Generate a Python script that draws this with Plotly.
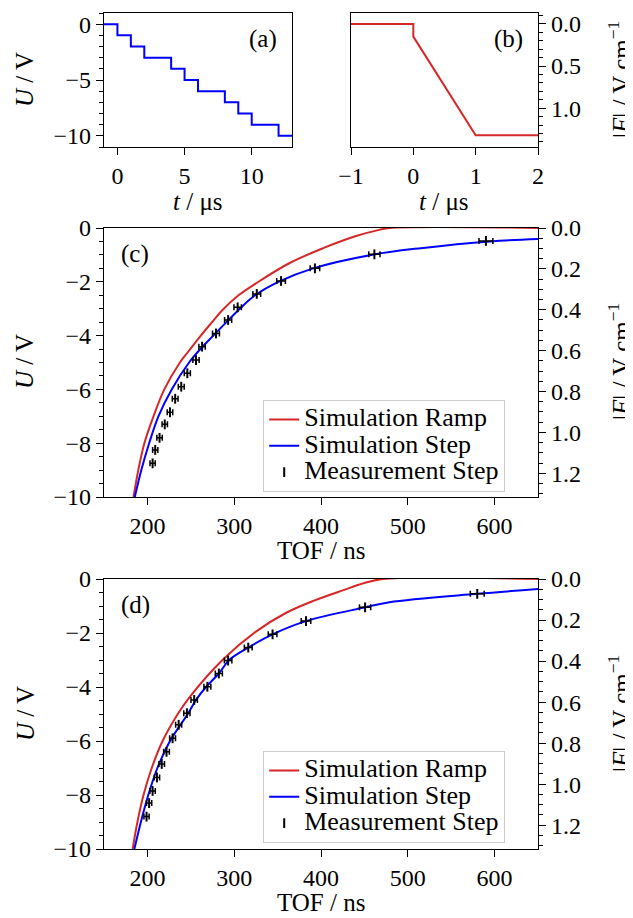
import plotly.graph_objects as go

# ---------------- data ----------------
# Panel (a): stepped voltage sequence
a_t = [-1, 0, 1, 2, 4, 5, 6, 8, 9, 10, 12, 13]
a_U = [0, -1, -2, -3, -4, -5, -6, -7, -8, -9, -10, -10]

# Panel (b): field ramp
b_t = [-1, 0, 0, 1, 2]
b_F = [0.0, 0.0, 0.15, 1.32, 1.32]

# Panel (c)
c_ramp_tof = [184, 189.5, 196.5, 207, 219.5, 237.5, 247, 261.5, 274.5, 286.5, 305, 325, 363.4, 401.8, 440.4, 467, 479, 650]
c_ramp_U = [-10, -9, -8, -7, -6, -5, -4.6, -4.0, -3.5, -3.05, -2.5, -2.06, -1.31, -0.76, -0.30, -0.07, 0.0, 0.0]
c_step_tof = [185.5, 193, 202, 212.7, 228, 248, 261, 276, 291, 306.5, 324, 351, 391, 458, 515, 595, 650]
c_step_U = [-10, -9, -8, -7, -6, -5, -4.5, -4.0, -3.5, -3.0, -2.5, -2.0, -1.5, -1.0, -0.75, -0.5, -0.41]
c_meas_tof = [590, 461.5, 393, 354, 326, 304, 293, 279, 263, 256, 246, 239, 232, 226, 220, 214, 209, 206]
c_meas_U = [-0.48, -0.98, -1.5, -1.97, -2.45, -2.95, -3.42, -3.92, -4.41, -4.91, -5.4, -5.9, -6.35, -6.85, -7.3, -7.8, -8.25, -8.75]
c_meas_err = [8, 6.5, 5.5, 5, 4.5, 4.3, 4.1, 4, 3.7, 3.6, 3.5, 3.4, 3.3, 3.2, 3.1, 3.1, 3.0, 3.0]

# Panel (d)
d_ramp_tof = [183, 188.5, 195.5, 205, 217.5, 235, 248, 286.5, 325, 360, 392, 425, 450, 471, 650]
d_ramp_U = [-10, -9, -8, -7, -6, -5, -4.4, -3.0, -1.95, -1.25, -0.8, -0.42, -0.15, 0.0, 0.0]
d_step_tof = [185, 192.5, 201, 211.5, 226, 246.5, 256, 267.5, 282.5, 294.2, 316.2, 344.2, 382.7, 450.8, 478.8, 580, 651]
d_step_U = [-10, -9, -8, -7, -6, -5, -4.48, -4.0, -3.49, -3.0, -2.54, -2.05, -1.56, -1.05, -0.86, -0.55, -0.37]
d_meas_tof = [580, 450.8, 382.7, 344.2, 316.2, 293, 282.3, 269.1, 253.9, 245.5, 236, 229, 222, 216.5, 211, 206, 202, 199]
d_meas_U = [-0.55, -1.05, -1.56, -2.05, -2.54, -3.02, -3.5, -3.99, -4.48, -4.97, -5.4, -5.9, -6.4, -6.85, -7.35, -7.85, -8.3, -8.8]
d_meas_err = [8, 6.5, 5.5, 5, 4.5, 4.3, 4.1, 4, 3.7, 3.6, 3.5, 3.4, 3.3, 3.2, 3.1, 3.1, 3.0, 3.0]

legend_names = ["Simulation Ramp", "Simulation Step", "Measurement Step"]

# --------------- styling ---------------
OFF = 8                      # page body margin of the browser
W, H = 633 - OFF, 918 - OFF
FONT = "Liberation Serif"
FS = 24
AFS = 25
RED = "#d62728"
BLUE = "#0000ff"
SMOOTH = 1.0


def px(x):
    return (x - OFF) / W


def py(y):
    return 1 - (y - OFF) / H


def lname(s):
    return '<span style="font-size:26px">' + s + "</span>"


axis_common = dict(
    showline=True, linecolor="black", linewidth=1.3, mirror=True,
    ticks="outside", ticklen=7, tickwidth=1.3, tickcolor="black",
    showgrid=False, zeroline=False, automargin=False,
    tickfont=dict(family=FONT, size=FS, color="black"),
)
minor_common = dict(ticks="outside", ticklen=4, tickcolor="black", tickwidth=1, tick0=0, showgrid=False)

fig = go.Figure()

# (a)
fig.add_trace(go.Scatter(x=a_t, y=a_U, mode="lines", line=dict(color=BLUE, width=2, shape="hv"),
                         xaxis="x", yaxis="y", showlegend=False))
# (b)
fig.add_trace(go.Scatter(x=b_t, y=b_F, mode="lines", line=dict(color=RED, width=2),
                         xaxis="x2", yaxis="y2", showlegend=False))

meas_marker = dict(symbol="line-ns-open", size=7, color="black", line=dict(color="black", width=2))

# (c)
fig.add_trace(go.Scatter(x=c_ramp_tof, y=c_ramp_U, mode="lines", name=lname(legend_names[0]),
                         line=dict(color=RED, width=2, shape="spline", smoothing=SMOOTH),
                         xaxis="x3", yaxis="y3", legend="legend"))
fig.add_trace(go.Scatter(x=c_step_tof, y=c_step_U, mode="lines", name=lname(legend_names[1]),
                         line=dict(color=BLUE, width=2, shape="spline", smoothing=SMOOTH),
                         xaxis="x3", yaxis="y3", legend="legend"))
fig.add_trace(go.Scatter(x=c_meas_tof, y=c_meas_U, mode="markers", name=lname(legend_names[2]),
                         marker=meas_marker,
                         error_x=dict(type="data", array=c_meas_err, visible=True,
                                      color="black", thickness=1.5, width=3),
                         xaxis="x3", yaxis="y3", legend="legend"))
fig.add_trace(go.Scatter(x=[None], y=[None], xaxis="x3", yaxis="y4", showlegend=False,
                         hoverinfo="skip"))

# (d)
fig.add_trace(go.Scatter(x=d_ramp_tof, y=d_ramp_U, mode="lines", name=lname(legend_names[0]),
                         line=dict(color=RED, width=2, shape="spline", smoothing=SMOOTH),
                         xaxis="x4", yaxis="y5", legend="legend2"))
fig.add_trace(go.Scatter(x=d_step_tof, y=d_step_U, mode="lines", name=lname(legend_names[1]),
                         line=dict(color=BLUE, width=2, shape="spline", smoothing=SMOOTH),
                         xaxis="x4", yaxis="y5", legend="legend2"))
fig.add_trace(go.Scatter(x=d_meas_tof, y=d_meas_U, mode="markers", name=lname(legend_names[2]),
                         marker=meas_marker,
                         error_x=dict(type="data", array=d_meas_err, visible=True,
                                      color="black", thickness=1.5, width=3),
                         xaxis="x4", yaxis="y5", legend="legend2"))
fig.add_trace(go.Scatter(x=[None], y=[None], xaxis="x4", yaxis="y6", showlegend=False,
                         hoverinfo="skip"))

top_dom = [py(147), py(13)]
c_dom = [py(497), py(228)]
d_dom = [py(849), py(579)]
xa_dom = [px(104), px(292)]
xb_dom = [px(351), px(538)]
xc_dom = [px(104), px(538)]

legend_style = dict(
    xanchor="left", yanchor="top", bgcolor="rgba(255,255,255,0.85)",
    bordercolor="#cccccc", borderwidth=1.2,
    font=dict(family=FONT, size=18, color="black"),
    itemwidth=30, tracegroupgap=0,
)

fig.update_layout(
    width=W, height=H,
    margin=dict(l=0, r=0, t=0, b=0, autoexpand=False),
    paper_bgcolor="white", plot_bgcolor="white",
    font=dict(family=FONT, size=FS, color="black"),
    xaxis=dict(axis_common, domain=xa_dom, range=[-1, 13], tickvals=[0, 5, 10], anchor="y"),
    yaxis=dict(axis_common, domain=top_dom, range=[-11, 1], tickvals=[0, -5, -10], anchor="x",
               minor=dict(minor_common, dtick=1)),
    xaxis2=dict(axis_common, domain=xb_dom, range=[-1, 2], tickvals=[-1, 0, 1, 2], anchor="y2"),
    yaxis2=dict(axis_common, domain=top_dom, range=[1.46, -0.13], side="right", anchor="x2",
                tickvals=[0, 0.5, 1.0], ticktext=["0.0", "0.5", "1.0"],
                minor=dict(minor_common, dtick=0.1)),
    xaxis3=dict(axis_common, domain=xc_dom, range=[150, 650], dtick=100, tick0=0, anchor="y3"),
    yaxis3=dict(axis_common, domain=c_dom, range=[-10, 0], dtick=2, tick0=0, anchor="x3",
                minor=dict(minor_common, dtick=0.5)),
    yaxis4=dict(axis_common, domain=c_dom, range=[1.316, 0], dtick=0.2, tick0=0, tickformat=".1f",
                side="right", overlaying="y3", anchor="x3",
                minor=dict(minor_common, dtick=0.05)),
    xaxis4=dict(axis_common, domain=xc_dom, range=[150, 650], dtick=100, tick0=0, anchor="y5"),
    yaxis5=dict(axis_common, domain=d_dom, range=[-10, 0], dtick=2, tick0=0, anchor="x4",
                minor=dict(minor_common, dtick=0.5)),
    yaxis6=dict(axis_common, domain=d_dom, range=[1.316, 0], dtick=0.2, tick0=0, tickformat=".1f",
                side="right", overlaying="y5", anchor="x4",
                minor=dict(minor_common, dtick=0.05)),
    legend=dict(legend_style, x=px(263), y=py(400)),
    legend2=dict(legend_style, x=px(263), y=py(751)),
)

ann_font = dict(family=FONT, size=AFS, color="black")
annotations = [
    dict(text="(a)", x=px(263), y=py(39)),
    dict(text="(b)", x=px(508), y=py(39)),
    dict(text="(c)", x=px(135), y=py(254)),
    dict(text="(d)", x=px(135), y=py(605)),
    dict(text="<i>U</i> / V", x=px(25), y=py(80), textangle=-90),
    dict(text="<i>U</i> / V", x=px(25), y=py(362), textangle=-90),
    dict(text="<i>U</i> / V", x=px(25), y=py(714), textangle=-90),
    dict(text="<i>t</i> / μs", x=px(198), y=py(201)),
    dict(text="<i>t</i> / μs", x=px(444), y=py(201)),
    dict(text="TOF / ns", x=px(321), y=py(550)),
    dict(text="TOF / ns", x=px(321), y=py(902)),
    dict(text="|<i>F</i>| / V cm<sup>−1</sup>", x=px(619), y=py(80), textangle=-90),
    dict(text="|<i>F</i>| / V cm<sup>−1</sup>", x=px(619), y=py(362), textangle=-90),
    dict(text="|<i>F</i>| / V cm<sup>−1</sup>", x=px(619), y=py(714), textangle=-90),
]
for a in annotations:
    a.update(xref="paper", yref="paper", showarrow=False, font=ann_font,
             xanchor="center", yanchor="middle")
fig.update_layout(annotations=annotations)

fig.write_html("out.html")
